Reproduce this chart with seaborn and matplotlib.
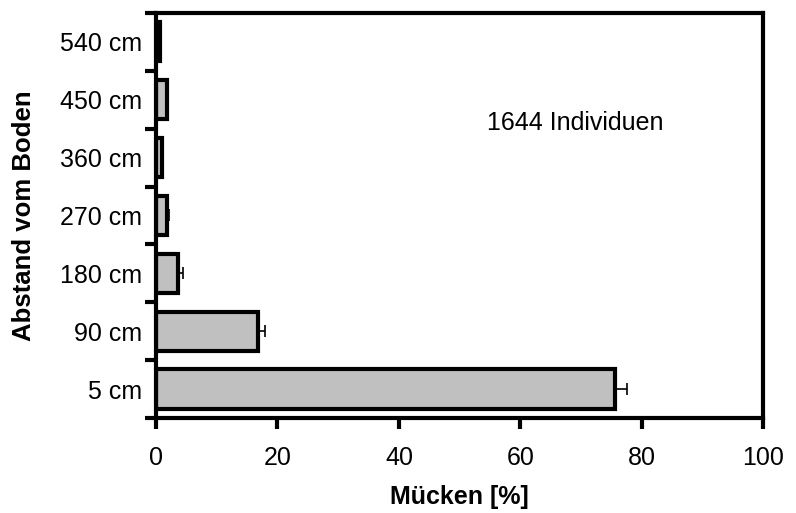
import numpy as np
import pandas as pd
import seaborn as sns
import matplotlib.pyplot as plt

# Mücken nach Höhe über dem Boden
hoehen = ['540 cm', '450 cm', '360 cm', '270 cm', '180 cm', '90 cm', '5 cm']
anteil = [0.6, 1.8, 1.0, 1.8, 3.6, 16.8, 75.5]
fehler = [0.2, 0.2, 0.2, 0.4, 0.8, 1.1, 2.1]

df = pd.DataFrame({'hoehe': hoehen, 'anteil': anteil})

sns.set_style('white')
plt.rcParams['font.family'] = ['Liberation Sans', 'DejaVu Sans']
plt.rcParams['text.color'] = 'black'
plt.rcParams['axes.labelcolor'] = 'black'
plt.rcParams['xtick.color'] = 'black'
plt.rcParams['ytick.color'] = 'black'

fig = plt.figure(figsize=(7.96, 5.13), dpi=100)
ax = fig.add_axes([0.196, 0.185, 0.763, 0.790])

sns.barplot(data=df, x='anteil', y='hoehe', order=hoehen, color='#c0c0c0',
            edgecolor='black', linewidth=3, width=0.68, saturation=1,
            errorbar=None, ax=ax)

# einseitige Fehlerbalken
pos = np.arange(len(hoehen))
ax.errorbar(anteil, pos, xerr=[np.zeros(len(fehler)), fehler], fmt='none',
            ecolor='black', elinewidth=1.2, capsize=4.5, capthick=1.2)

ax.set_xlim(0, 100)
ax.set_ylim(len(hoehen) - 0.5, -0.5)
ax.set_xticks([0, 20, 40, 60, 80, 100])
ax.set_yticks(np.arange(len(hoehen) + 1) - 0.5, minor=True)
ax.set_yticks(pos)
ax.set_yticklabels(hoehen)

ax.tick_params(axis='y', which='major', length=0, pad=10, labelsize=18)
ax.tick_params(axis='y', which='minor', left=True, length=8, width=3,
               direction='out', color='black')
ax.tick_params(axis='x', which='major', bottom=True, length=8, width=3,
               direction='out', color='black', pad=12, labelsize=18)

for s in ax.spines.values():
    s.set_visible(True)
    s.set_color('black')
    s.set_linewidth(3)

ax.set_xlabel('Mücken [%]', fontsize=18, fontweight='bold', labelpad=11)
ax.set_ylabel('Abstand vom Boden', fontsize=18.5, fontweight='bold', labelpad=17)

ax.text(54.5, 0.728, '1644 Individuen', transform=ax.get_xaxis_transform(),
        fontsize=18, va='center', ha='left')

fig.savefig('out.png', dpi=100)
